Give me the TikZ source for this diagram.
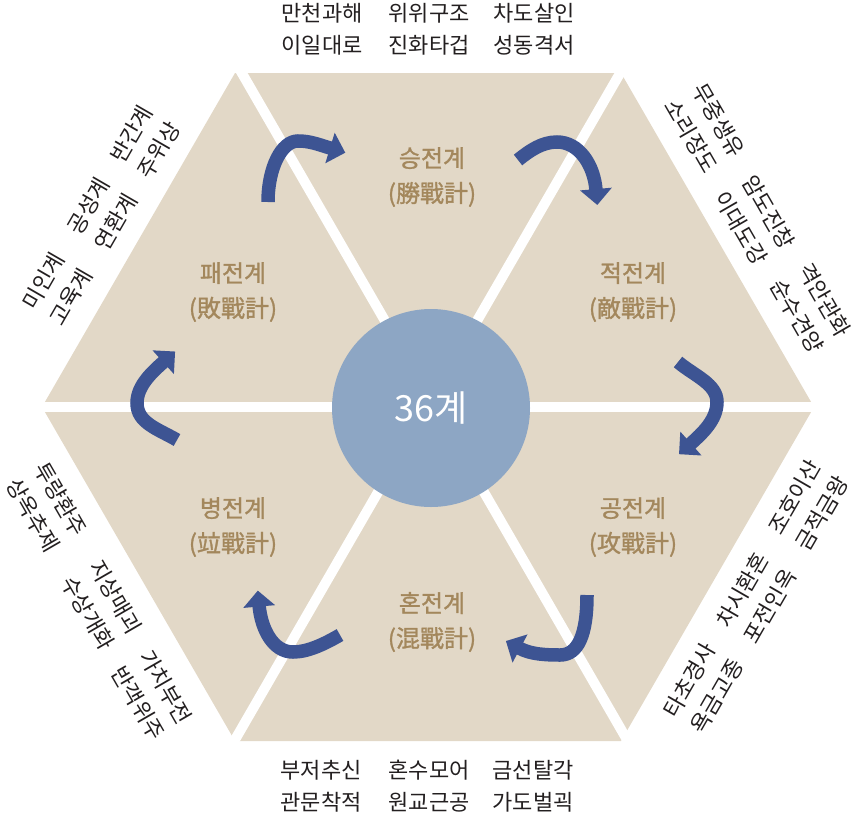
\documentclass[tikz,border=0pt]{standalone}
\usepackage{fontspec}
\newfontfamily\cjk{Noto Sans CJK KR}
\newfontfamily\cjkb{Noto Sans CJK KR}[FakeBold=1.2]
\usetikzlibrary{arrows.meta,calc}
\definecolor{hexfill}{HTML}{E2D8C7}
\definecolor{circfill}{HTML}{8DA6C4}
\definecolor{arrowblue}{HTML}{3D5493}
\definecolor{labeltan}{HTML}{A3875C}
\definecolor{textdark}{HTML}{231F20}
\begin{document}
\begin{tikzpicture}[x=1pt,y=-1pt,
  sector/.style={fill=hexfill},
  gapline/.style={white,line width=10pt},
  hub/.style={circle,fill=circfill,minimum size=198pt,inner sep=0pt,text=white,font=\cjk\fontsize{36}{40}\selectfont},
  seclabel/.style={align=center,text=labeltan,font=\cjkb\fontsize{24}{35}\selectfont,inner sep=0pt},
  names/.style={align=center,text=textdark,font=\cjk\fontsize{22}{32}\selectfont,inner sep=0pt},
  cyc/.style={draw=arrowblue,line width=13.5pt,-{Triangle[width=31pt,length=16pt]}}
]
\useasboundingbox (0,0) rectangle (858,819);
% hexagon
\fill[sector] (814,407) -- (621,73) -- (235,73) -- (42,407) -- (235,741) -- (621,741) -- cycle;
% gaps
\coordinate (ga1) at (30,407);  \coordinate (ga2) at (830,407);
\coordinate (gb1) at (232,56);  \coordinate (gb2) at (637,757);
\coordinate (gc1) at (630,56);  \coordinate (gc2) at (225,757);
\draw[gapline] (ga1) -- (ga2);
\draw[gapline] (gb1) -- (gb2);
\draw[gapline] (gc1) -- (gc2);
% hub
\node[hub] (hub) at (431,408) {36계};
% cycle arrows
\draw[cyc] (268,202) .. controls (268,168) and (281.5,141) .. (298,141)
  .. controls (310,141) and (318.5,144.5) .. (330,148) -- (345.3,152.7);
\draw[cyc] (518,160) .. controls (529.7,150.6) and (542,142) .. (557,142)
  .. controls (579,142) and (594,165) .. (596,190) -- (597.3,205);
\draw[cyc] (678,362) .. controls (694.9,376.1) and (717,384) .. (717,402)
  .. controls (717,420) and (702,433.5) .. (691,443.5) -- (679,454.2);
\draw[cyc] (587,595) .. controls (587,635) and (578,655) .. (560,655)
  .. controls (545,655) and (530.6,654.1) .. (520,648.5) -- (505.9,641);
\draw[cyc] (340,635) .. controls (324.4,644) and (308,652) .. (293,652)
  .. controls (273,652) and (261,629) .. (259,604.5) -- (257.8,590.6);
\draw[cyc] (177,440) .. controls (158,429) and (137,423) .. (137,403)
  .. controls (137,385) and (153.6,370.9) .. (164,361.5) -- (175.1,351.5);
% sector labels
\node[seclabel] (s1) at (432,177) {승전계\\(勝戰計)};
\node[seclabel] (s2) at (633,292) {적전계\\(敵戰計)};
\node[seclabel] (s3) at (633,527) {공전계\\(攻戰計)};
\node[seclabel] (s4) at (432,622) {혼전계\\(混戰計)};
\node[seclabel] (s5) at (233,527) {병전계\\(竝戰計)};
\node[seclabel] (s6) at (233,292) {패전계\\(敗戰計)};
% top / bottom names
\node[names] (t1) at (322,29) {만천과해\\이일대로};
\node[names] (t2) at (429,29) {위위구조\\진화타겁};
\node[names] (t3) at (534,29) {차도살인\\성동격서};
\node[names] (b1) at (321,786) {부저추신\\관문착적};
\node[names] (b2) at (429,786) {혼수모어\\원교근공};
\node[names] (b3) at (533,786) {금선탈각\\가도벌괵};
% upper-left
\node[names,rotate=60] (ul1) at (57,289) {미인계\\고육계};
\node[names,rotate=60] (ul2) at (102,214) {공성계\\연환계};
\node[names,rotate=60] (ul3) at (145,142) {반간계\\주위상};
% upper-right
\node[names,rotate=-60] (ur1) at (705,128) {무중생유\\소리장도};
\node[names,rotate=-60] (ur2) at (755,220) {암도진창\\이대도강};
\node[names,rotate=-60] (ur3) at (811,308) {격안관화\\순수견양};
% lower-right
\node[names,rotate=60] (lr1) at (808,505) {조호이산\\금적금왕};
\node[names,rotate=60] (lr2) at (756,598) {차시환혼\\포전인옥};
\node[names,rotate=60] (lr3) at (703,688) {타초경사\\욕금고종};
% lower-left
\node[names,rotate=-60] (ll1) at (47,507) {투량환주\\상옥추제};
\node[names,rotate=-60] (ll2) at (102,605) {지상매괴\\수상개화};
\node[names,rotate=-60] (ll3) at (152,695) {가치부전\\반객위주};
\end{tikzpicture}
\end{document}
